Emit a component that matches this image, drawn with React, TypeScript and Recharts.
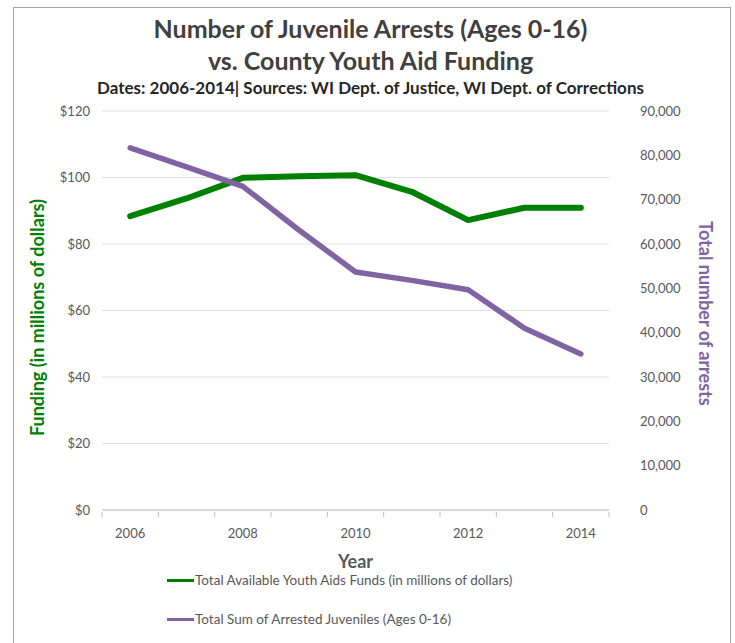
import React from 'react';
import { LineChart, Line, XAxis, YAxis, CartesianGrid } from 'recharts';

const years = ['2006', '2007', '2008', '2009', '2010', '2011', '2012', '2013', '2014'];
const fundsMillions = [88.4, 93.7, 99.9, 100.4, 100.7, 95.7, 87.2, 90.9, 90.9];
const arrestedJuveniles = [81700, 77400, 73000, 63100, 53700, 51800, 49700, 41000, 35200];
const fundingTicks = [0, 20, 40, 60, 80, 100, 120];
const arrestTicks = [0, 10000, 20000, 30000, 40000, 50000, 60000, 70000, 80000, 90000];

const fundsName = 'Total Available Youth Aids Funds (in millions of dollars)';
const arrestsName = 'Total Sum of Arrested Juveniles (Ages 0-16)';

const GREEN = '#008000';
const PURPLE = '#8064A2';
const FONT = 'Lato, "Open Sans", sans-serif';

const W = 735;
const H = 643;
const PLOT_LEFT = 102;
const PLOT_RIGHT = 609;
const PLOT_TOP = 111;
const PLOT_BOTTOM = 510;
const BAND = (PLOT_RIGHT - PLOT_LEFT) / years.length;

const data = years.map((y, i) => ({
  year: y,
  funds: fundsMillions[i],
  arrests: arrestedJuveniles[i],
}));

// tick marks sit between categories, labels every other year
const YearTick = (props: any) => {
  const { x, y, payload, index } = props;
  const showLabel = index % 2 === 0;
  const last = index === years.length - 1;
  return (
    <g>
      <line x1={x - BAND / 2} y1={y} x2={x - BAND / 2} y2={y + 5} stroke="#BFBFBF" />
      {last && <line x1={x + BAND / 2} y1={y} x2={x + BAND / 2} y2={y + 5} stroke="#BFBFBF" />}
      {showLabel && (
        <text x={x} y={y + 23} textAnchor="middle" dominantBaseline="middle" fill="#595959" fontSize={13} fontFamily={FONT}>
          {payload.value}
        </text>
      )}
    </g>
  );
};

export default function App() {
  return (
    <div style={{ position: 'absolute', left: 0, top: 0, width: W, height: H, background: '#fff', fontFamily: FONT, overflow: 'hidden' }}>
      <div style={{ position: 'absolute', left: 13, top: 7, width: 718, height: 660, border: '1.5px solid #A6A6A6', boxSizing: 'border-box' }} />
      <div style={{ position: 'absolute', left: 0, top: 12, width: 741, textAlign: 'center', color: '#404040', fontWeight: 700, fontSize: 25, lineHeight: '32px' }}>
        Number of Juvenile Arrests (Ages 0-16)
        <br />
        vs. County Youth Aid Funding
      </div>
      <div style={{ position: 'absolute', left: 0, top: 78, width: 741, textAlign: 'center', color: '#262626', fontWeight: 700, fontSize: 17, lineHeight: '20px' }}>
        Dates: 2006-2014| Sources: WI Dept. of Justice, WI Dept. of Corrections
      </div>
      <div style={{ position: 'absolute', left: 0, top: 0 }}>
        <LineChart
          width={W}
          height={H}
          data={data}
          margin={{ top: PLOT_TOP, left: PLOT_LEFT - 60, right: W - PLOT_RIGHT - 96, bottom: H - PLOT_BOTTOM - 30 }}
        >
          <CartesianGrid yAxisId="left" vertical={false} stroke="#E0E0E0" />
          <XAxis
            dataKey="year"
            scale="band"
            interval={0}
            height={30}
            tickSize={0}
            tickLine={false}
            stroke="#BFBFBF"
            tick={<YearTick />}
            label={{ value: 'Year', position: 'bottom', offset: 15, fill: '#595959', fontSize: 18, fontWeight: 700, fontFamily: FONT }}
          />
          <YAxis
            yAxisId="left"
            width={60}
            domain={[0, 120]}
            ticks={fundingTicks}
            tickFormatter={(v: number) => `$${v}`}
            axisLine={false}
            tickLine={false}
            tickSize={0}
            tickMargin={12}
            tick={{ fill: '#595959', fontSize: 13, fontFamily: FONT }}
            label={{ value: 'Funding (in millions of dollars)', angle: -90, position: 'center', dx: -34, dy: 7, fill: GREEN, fontSize: 18, fontWeight: 700, fontFamily: FONT }}
          />
          <YAxis
            yAxisId="right"
            orientation="right"
            width={96}
            domain={[0, 90000]}
            ticks={arrestTicks}
            tickFormatter={(v: number) => v.toLocaleString('en-US')}
            axisLine={false}
            tickLine={false}
            tickSize={0}
            tickMargin={31}
            tick={{ fill: '#595959', fontSize: 13, fontFamily: FONT, textAnchor: 'start' }}
            label={{ value: 'Total number of arrests', angle: 90, position: 'center', dx: 48, dy: 3, fill: PURPLE, fontSize: 18, fontWeight: 700, fontFamily: FONT }}
          />
          <Line
            yAxisId="left"
            dataKey="funds"
            name={fundsName}
            stroke={GREEN}
            strokeWidth={6}
            strokeLinecap="round"
            strokeLinejoin="round"
            dot={false}
            activeDot={false}
            isAnimationActive={false}
          />
          <Line
            yAxisId="right"
            dataKey="arrests"
            name={arrestsName}
            stroke={PURPLE}
            strokeWidth={5.5}
            strokeLinecap="round"
            strokeLinejoin="round"
            dot={false}
            activeDot={false}
            isAnimationActive={false}
          />
        </LineChart>
      </div>
      {[
        { name: fundsName, color: GREEN, top: 571 },
        { name: arrestsName, color: PURPLE, top: 610 },
      ].map((item) => (
        <div key={item.name} style={{ position: 'absolute', left: 167, top: item.top, display: 'flex', alignItems: 'center', height: 18 }}>
          <div style={{ width: 27, height: 3, background: item.color }} />
          <span style={{ marginLeft: 1, fontSize: 13.5, color: '#595959' }}>{item.name}</span>
        </div>
      ))}
    </div>
  );
}
